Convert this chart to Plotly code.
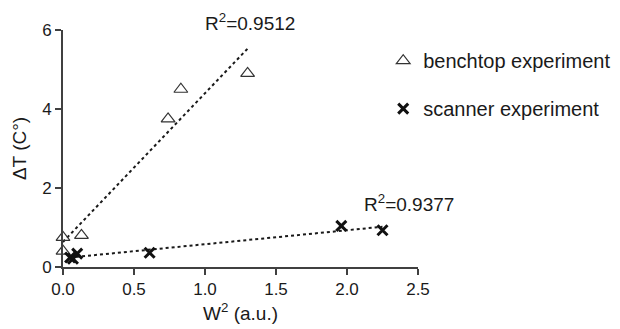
import numpy as np
import plotly.graph_objects as go

# Data
bench_x = [0.0, 0.0, 0.13, 0.74, 0.83, 1.30]
bench_y = [0.75, 0.40, 0.80, 3.75, 4.50, 4.90]
scan_x = [0.05, 0.07, 0.10, 0.61, 1.96, 2.25]
scan_y = [0.24, 0.21, 0.34, 0.36, 1.04, 0.93]
bench_r2 = "0.9512"
scan_r2 = "0.9377"
x_ticks = [0.0, 0.5, 1.0, 1.5, 2.0, 2.5]
y_ticks = [0, 2, 4, 6]

FONT = "Liberation Sans, Arial, Helvetica, sans-serif"
INK = "#1a1a1a"


def fit(xs, ys):
    k, b = np.polyfit(xs, ys, 1)
    xr = [min(xs), max(xs)]
    return xr, [k * v + b for v in xr]


fig = go.Figure()

bfx, bfy = fit(bench_x, bench_y)
sfx, sfy = fit(scan_x, scan_y)

fig.add_trace(go.Scatter(x=bfx, y=bfy, mode="lines", showlegend=False,
                         line=dict(color=INK, width=2, dash="dot"), cliponaxis=False))
fig.add_trace(go.Scatter(x=sfx, y=sfy, mode="lines", showlegend=False,
                         line=dict(color=INK, width=2, dash="dot"), cliponaxis=False))

fig.add_trace(go.Scatter(x=bench_x, y=bench_y, mode="markers", name="benchtop experiment",
                         legendgroup="a", cliponaxis=False,
                         marker=dict(symbol="triangle-up-open", size=12, color="#333333",
                                     line=dict(width=1.2, color="#333333"))))
fig.add_trace(go.Scatter(x=scan_x, y=scan_y, mode="markers", name="scanner experiment",
                         legendgroup="b", cliponaxis=False,
                         marker=dict(symbol="x-thin-open", size=10, color="#111111",
                                     line=dict(width=3, color="#111111"))))

fig.add_annotation(x=1.32, xref="x", y=1.035, yref="paper", text="R<sup>2</sup>=" + bench_r2,
                   showarrow=False, xanchor="center", yanchor="middle",
                   font=dict(size=19, color=INK, family=FONT))
fig.add_annotation(x=2.44, xref="x", y=1.61, yref="y", text="R<sup>2</sup>=" + scan_r2,
                   showarrow=False, xanchor="center", yanchor="middle",
                   font=dict(size=19, color=INK, family=FONT))

axis_common = dict(showgrid=False, zeroline=False, showline=True, linecolor="#404040",
                   linewidth=2, ticks="outside", ticklen=6, tickwidth=1.5, tickcolor="#404040",
                   tickfont=dict(size=17, color=INK, family=FONT))

fig.update_xaxes(range=[0, 2.5], tickvals=x_ticks, ticktext=[f"{v:.1f}" for v in x_ticks],
                 title=dict(text="W<sup>2</sup> (a.u.)", font=dict(size=19, color=INK, family=FONT),
                            standoff=8),
                 **axis_common)
fig.update_yaxes(range=[0, 6], tickvals=y_ticks, ticktext=[str(v) for v in y_ticks],
                 title=dict(text="ΔT (C°)", font=dict(size=19, color=INK, family=FONT),
                            standoff=10),
                 **axis_common)

# The page body adds an 8px offset, so the figure is sized/positioned to compensate.
fig.update_layout(
    width=612, height=321,
    margin=dict(l=55, r=202, t=22, b=62, autoexpand=False),
    plot_bgcolor="white", paper_bgcolor="white",
    font=dict(family=FONT, color=INK),
    legend=dict(x=0.902, xanchor="left", y=0.953, yanchor="top", xref="paper", yref="paper",
                font=dict(size=20, color=INK, family=FONT), tracegroupgap=19,
                traceorder="grouped", bgcolor="rgba(0,0,0,0)"),
)

fig.write_html("out.html")
